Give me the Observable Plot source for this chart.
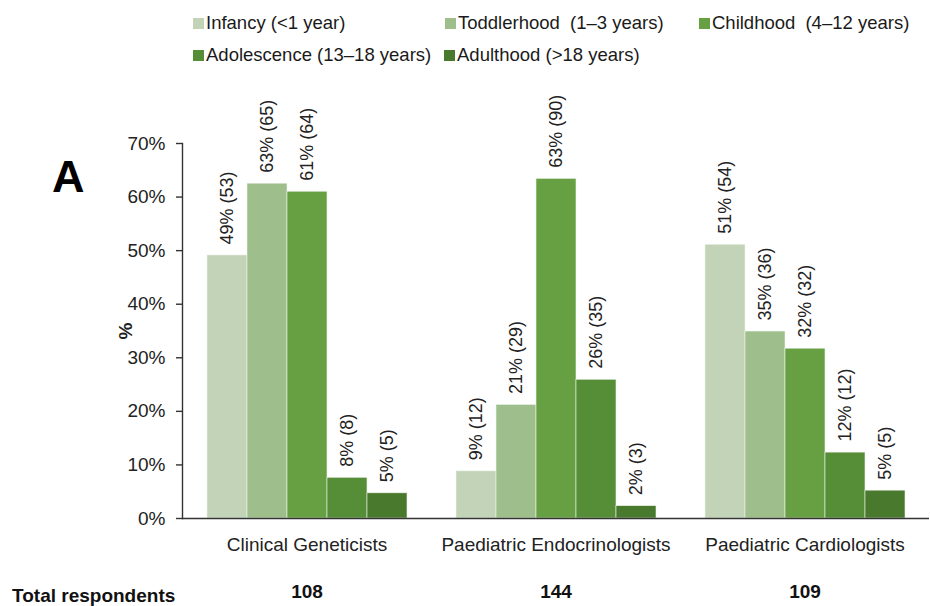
<!DOCTYPE html>
<html>
<head>
<meta charset="utf-8">
<script src="https://cdn.jsdelivr.net/npm/d3@7"></script>
<script src="https://cdn.jsdelivr.net/npm/@observablehq/plot@0.6"></script>
<style>
  html, body { margin: 0; padding: 0; background: #fff; }
  body { width: 930px; height: 606px; position: relative; overflow: hidden;
         font-family: "Liberation Sans", Arial, sans-serif; color: #222; }
  #legend { position: relative; height: 75px; }
  .item { position: absolute; display: flex; align-items: center; font-size: 18.5px; line-height: 22px; height: 22px; white-space: pre; color: #1a1a1a; }
  .sw { width: 11px; height: 11px; margin-right: 2px; flex: none; }
  #panel { position: absolute; left: 52px; top: 154px; font-size: 45px; line-height: 1; font-weight: bold; color: #000; }
  #total { position: absolute; left: 12px; top: 586px; font-size: 19px; line-height: 1; font-weight: bold; color: #111; }
  #chart svg { display: block; }
  g[aria-label="y-axis label"] text { font-weight: bold; }
</style>
</head>
<body>
<div id="legend"></div>
<div id="chart"></div>
<div id="panel">A</div>
<div id="total">Total respondents</div>
<script>
const groups = ["Clinical Geneticists", "Paediatric Endocrinologists", "Paediatric Cardiologists"];
const ages = ["Infancy (<1 year)", "Toddlerhood (1–3 years)", "Childhood (4–12 years)", "Adolescence (13–18 years)", "Adulthood (>18 years)"];
const colors = ["#c2d3b8", "#9ebe8c", "#67a043", "#568d37", "#48792d"];
const totals = [108, 144, 109];

// bar heights (%) per age class, one value per group
const infancyValues     = [49.1, 8.8, 51.1];
const toddlerhoodValues = [62.5, 21.2, 34.9];
const childhoodValues   = [61.0, 63.4, 31.7];
const adolescenceValues = [7.6, 25.9, 12.3];
const adulthoodValues   = [4.7, 2.3, 5.2];

// printed percentage labels
const infancyPct     = [49, 9, 51];
const toddlerhoodPct = [63, 21, 35];
const childhoodPct   = [61, 63, 32];
const adolescencePct = [8, 26, 12];
const adulthoodPct   = [5, 2, 5];

// respondent counts
const infancyN     = [53, 12, 54];
const toddlerhoodN = [65, 29, 36];
const childhoodN   = [64, 90, 32];
const adolescenceN = [8, 35, 12];
const adulthoodN   = [5, 3, 5];

const yTicks = [0, 10, 20, 30, 40, 50, 60, 70];

const valueSets = [infancyValues, toddlerhoodValues, childhoodValues, adolescenceValues, adulthoodValues];
const pctSets = [infancyPct, toddlerhoodPct, childhoodPct, adolescencePct, adulthoodPct];
const nSets = [infancyN, toddlerhoodN, childhoodN, adolescenceN, adulthoodN];

const data = [];
groups.forEach((g, gi) => ages.forEach((a, ai) => data.push({
  group: g, age: a, value: valueSets[ai][gi], pct: pctSets[ai][gi], n: nSets[ai][gi]
})));

// legend
const legendPos = [[193, 23], [445, 23], [699, 23], [193, 55], [444, 55]];
const legendWordGap = [0, 5, 5, 0, 0];
const legend = document.getElementById("legend");
ages.forEach((a, i) => {
  const it = document.createElement("div");
  it.className = "item";
  it.style.left = legendPos[i][0] + "px";
  it.style.top = (legendPos[i][1] - 11) + "px";
  const k = a.indexOf(" (");
  it.innerHTML = `<span class="sw" style="background:${colors[i]}"></span><span></span><span></span>`;
  it.children[1].textContent = a.slice(0, k + 1);
  it.children[1].style.marginRight = legendWordGap[i] + "px";
  it.children[2].textContent = a.slice(k + 1);
  legend.appendChild(it);
});

const chart = Plot.plot({
  width: 930,
  height: 531,
  marginLeft: 181,
  marginRight: 0,
  marginTop: 68,
  marginBottom: 88,
  style: { fontFamily: "Liberation Sans, Arial, sans-serif", color: "#222", overflow: "visible" },
  fx: { domain: groups, padding: 0 },
  x: { domain: ages, paddingInner: 0, paddingOuter: 0.59, axis: null },
  y: { domain: [0, 70], axis: null },
  color: { domain: ages, range: colors },
  marks: [
    Plot.barY(data, { fx: "group", x: "age", y: "value", fill: "age", stroke: "#eef3ea", strokeWidth: 0.6 }),
    Plot.text(data, {
      fx: "group", x: "age", y: "value",
      text: d => `${d.pct}% (${d.n})`,
      rotate: -90, textAnchor: "start", lineAnchor: "middle",
      dy: -11, fontSize: 18, fill: "#222"
    }),
    Plot.ruleY([0], { stroke: "#333", strokeWidth: 1.6 }),
    Plot.frame({ anchor: "left", facetAnchor: "left", stroke: "#333", strokeWidth: 1.4 }),
    Plot.axisY({
      ticks: yTicks, tickFormat: d => d + "%", tickSize: 6, tickPadding: 11,
      fontSize: 19, label: "%", labelAnchor: "center", labelArrow: "none", labelOffset: 64,
      stroke: "#333", strokeWidth: 1.4
    }),
    Plot.axisFx({ anchor: "bottom", tickSize: 0, tickPadding: 19, fontSize: 19, label: null }),
    Plot.text(groups, {
      fx: d => d, text: (d, i) => String(totals[i]),
      frameAnchor: "bottom", dy: 79, fontSize: 19, fontWeight: "bold", fill: "#111"
    })
  ]
});
document.getElementById("chart").appendChild(chart);
</script>
</body>
</html>
